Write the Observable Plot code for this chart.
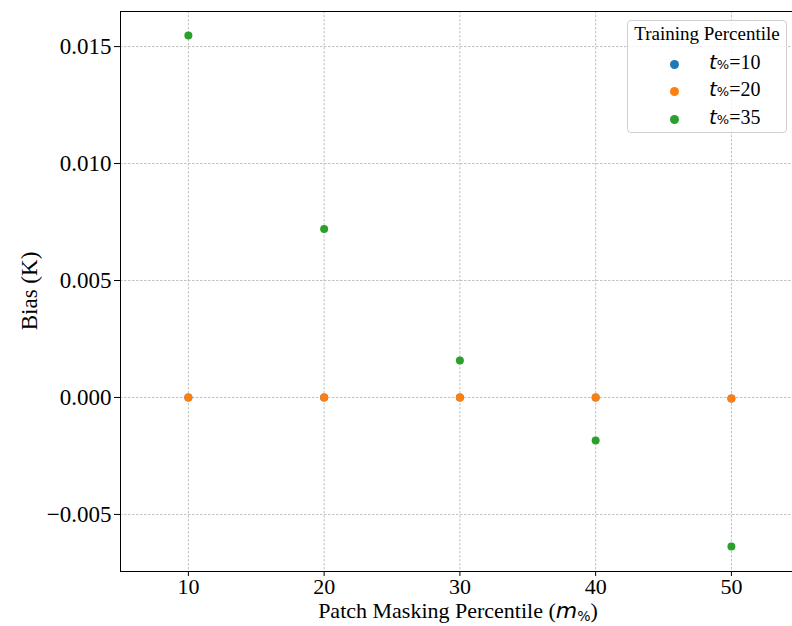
<!DOCTYPE html>
<html><head><meta charset="utf-8">
<script src="https://cdn.jsdelivr.net/npm/d3@7"></script>
<script src="https://cdn.jsdelivr.net/npm/@observablehq/plot@0.6"></script>
<style>
body{margin:0;background:#fff;}
#chart{position:relative;width:792px;height:626px;overflow:hidden;}
.legend{position:absolute;left:627px;top:20px;width:160px;height:113px;border:1px solid #d0d0d0;border-radius:4px;background:rgba(255,255,255,0.8);font-family:"Liberation Serif",serif;color:#000;box-sizing:border-box;}
.legend .title{position:absolute;left:0;right:0;top:2px;text-align:center;font-size:19px;}
.legend .row{position:absolute;left:0;right:0;height:20px;}
.legend .sw{position:absolute;left:42px;top:6px;width:9px;height:9px;border-radius:50%;}
.legend .lab{position:absolute;left:81px;top:-4px;font-size:20px;white-space:nowrap;}
.mi{font-family:"DejaVu Sans",sans-serif;font-style:italic;}
.sub{font-family:"DejaVu Sans",sans-serif;font-size:13px;}
</style></head><body><div id="chart"></div>
<script>
const masking = [10, 20, 30, 40, 50];
const seriesNames = ["t%=10", "t%=20", "t%=35"];
const seriesNums = ["10", "20", "35"];
const bias10 = [0, 0, 0, 0, -0.00004];
const bias20 = [0, 0, 0, 0, -0.00004];
const bias35 = [0.01547, 0.0072, 0.00158, -0.00184, -0.00637];
const xTicks = [10, 20, 30, 40, 50];
const yTicks = [-0.005, 0, 0.005, 0.010, 0.015];
const colors = ["#1f77b4", "#ff7f0e", "#2ca02c"];

const allSeries = [bias10, bias20, bias35];
const data = [];
allSeries.forEach((vals, si) => vals.forEach((v, i) => data.push({m: masking[i], bias: v, series: seriesNames[si]})));

const gridStyle = {stroke: "#a8a8a8", strokeOpacity: 1, strokeWidth: 0.7, strokeDasharray: "2.5,1.5"};
const plot = Plot.plot({
  width: 792, height: 626,
  marginLeft: 120, marginRight: 0, marginTop: 11, marginBottom: 55,
  x: {domain: [5, 54.5], label: null},
  y: {domain: [-0.00744, 0.0165], label: null},
  color: {domain: seriesNames, range: colors},
  style: {fontFamily: "Liberation Serif, serif", fontSize: "22px", background: "#fff", color: "#000"},
  marks: [
    Plot.gridX(xTicks, gridStyle),
    Plot.gridY(yTicks, gridStyle),
    Plot.axisX(xTicks, {tickSize: 5, tickPadding: 2, tickFormat: d => String(d), fontSize: 22, label: null, stroke: "#000"}),
    Plot.axisY(yTicks, {tickSize: 6, tickPadding: 3, tickFormat: d3.format(".3f"), fontSize: 23, label: null, stroke: "#000"}),
    Plot.dot(data, {x: "m", y: "bias", fill: "series", r: 4, stroke: "none"}),
    Plot.frame({stroke: "#000", strokeWidth: 1})
  ]
});
const chart = document.getElementById("chart");
chart.appendChild(plot);

const svg = d3.select(plot);
svg.append("text")
  .attr("transform", "translate(29,291) rotate(-90)")
  .attr("text-anchor", "middle").attr("dominant-baseline", "central")
  .attr("font-family", "Liberation Serif, serif").attr("font-size", 23).attr("fill", "#000")
  .text("Bias (K)");
const xl = svg.append("text")
  .attr("x", 458).attr("y", 618)
  .attr("text-anchor", "middle")
  .attr("font-family", "Liberation Serif, serif").attr("font-size", 22).attr("fill", "#000");
xl.append("tspan").text("Patch Masking Percentile (");
xl.append("tspan").attr("font-family", "DejaVu Sans, sans-serif").attr("font-style", "italic").text("m");
xl.append("tspan").attr("font-family", "DejaVu Sans, sans-serif").attr("font-size", 14).attr("dy", 3).text("%");
xl.append("tspan").attr("dy", -3).text(")");

const lg = document.createElement("div");
lg.className = "legend";
let html = '<div class="title">Training Percentile</div>';
const rowTops = [33, 60, 88];
seriesNums.forEach((n, i) => {
  html += `<div class="row" style="top:${rowTops[i]}px"><div class="sw" style="background:${colors[i]}"></div>` +
    `<div class="lab"><span class="mi">t</span><span class="sub">%</span>=${n}</div></div>`;
});
lg.innerHTML = html;
chart.appendChild(lg);
</script></body></html>
